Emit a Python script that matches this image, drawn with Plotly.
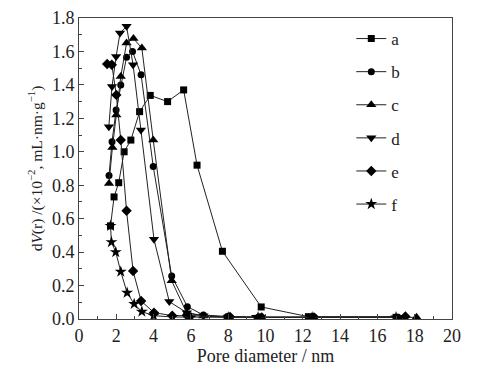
import plotly.graph_objects as go

names = ["a", "b", "c", "d", "e", "f"]
symbols = ["square", "circle", "triangle-up", "triangle-down", "diamond", "star"]

a_x = [1.69, 1.88, 2.13, 2.42, 2.78, 3.25, 3.82, 4.75, 5.61, 6.33, 7.69, 9.77, 12.3, 17.0]
a_y = [0.557, 0.73, 0.815, 1.0, 1.07, 1.24, 1.337, 1.30, 1.37, 0.92, 0.405, 0.072, 0.014, 0.01]

b_x = [1.61, 1.77, 1.99, 2.24, 2.55, 2.87, 3.33, 3.98, 4.97, 5.81, 6.67, 7.95, 9.6, 12.6, 17.1]
b_y = [0.858, 1.06, 1.25, 1.40, 1.565, 1.60, 1.46, 0.912, 0.257, 0.074, 0.024, 0.015, 0.01, 0.012, 0.01]

c_x = [1.61, 1.79, 2.0, 2.24, 2.55, 2.92, 3.37, 3.98, 4.97, 5.78, 6.67, 8.0, 9.7, 12.5, 18.1]
c_y = [0.81, 1.025, 1.22, 1.45, 1.65, 1.677, 1.62, 1.07, 0.228, 0.035, 0.018, 0.012, 0.01, 0.01, 0.01]

d_x = [1.6, 1.77, 1.99, 2.2, 2.55, 2.9, 3.32, 4.02, 4.84, 5.78, 6.67, 8.0, 9.5, 12.4, 17.2]
d_y = [1.15, 1.39, 1.57, 1.71, 1.75, 1.52, 1.13, 0.477, 0.104, 0.038, 0.02, 0.012, 0.01, 0.01, 0.01]

e_x = [1.51, 1.76, 2.0, 2.24, 2.55, 2.9, 3.33, 4.02, 5.0, 5.8, 8.1, 9.8, 12.6, 17.5]
e_y = [1.525, 1.52, 1.34, 1.07, 0.647, 0.287, 0.108, 0.038, 0.02, 0.02, 0.012, 0.01, 0.01, 0.015]

f_x = [1.69, 1.74, 1.97, 2.24, 2.58, 2.96, 3.37, 4.0, 5.0, 6.0, 8.0, 9.6, 12.5, 17.0]
f_y = [0.557, 0.46, 0.40, 0.283, 0.157, 0.09, 0.044, 0.02, 0.012, 0.01, 0.01, 0.01, 0.01, 0.01]

xs = [a_x, b_x, c_x, d_x, e_x, f_x]
ys = [a_y, b_y, c_y, d_y, e_y, f_y]

font = "Liberation Serif, Times New Roman, serif"
sizes = {"square": 7, "circle": 7, "triangle-up": 9, "triangle-down": 9, "diamond": 8, "star": 9}
fig = go.Figure()
for n, s, x, y in zip(names, symbols, xs, ys):
    fig.add_trace(go.Scatter(
        x=x, y=y, name=n, mode="lines+markers", legendgroup=n,
        line=dict(color="#222", width=1),
        marker=dict(symbol=s, size=sizes[s], color="black"),
    ))

axis_common = dict(
    showline=True, linecolor="#444", linewidth=1, mirror=True,
    ticks="inside", ticklen=5, tickcolor="#444", showgrid=False, zeroline=False,
    tickfont=dict(family=font, size=18, color="#222"), automargin=False,
)
fig.update_xaxes(range=[0, 20], dtick=2, tick0=0,
                 minor=dict(ticks="inside", ticklen=3, dtick=1, tickcolor="#444"),
                 title=dict(text="Pore diameter / nm", font=dict(family=font, size=18, color="#222"), standoff=0),
                 **axis_common)
fig.update_yaxes(range=[0, 1.8], dtick=0.2, tick0=0, tickformat=".1f",
                 minor=dict(ticks="inside", ticklen=3, dtick=0.1, tickcolor="#444"),
                 title=dict(text="d<i>V</i>(r) /(×10<sup>−2</sup>, mL·nm·g<sup>−1</sup>)",
                            font=dict(family=font, size=15.5, color="#222"), standoff=5),
                 **axis_common)
fig.update_layout(
    width=474, height=365,
    margin=dict(l=71, r=30, t=10, b=54),
    plot_bgcolor="white", paper_bgcolor="white",
    legend=dict(x=0.73, y=0.99, xanchor="left", yanchor="top",
                font=dict(family=font, size=17, color="#222"),
                tracegroupgap=8, bgcolor="rgba(0,0,0,0)", maxheight=400),
)
fig.write_html("out.html")
